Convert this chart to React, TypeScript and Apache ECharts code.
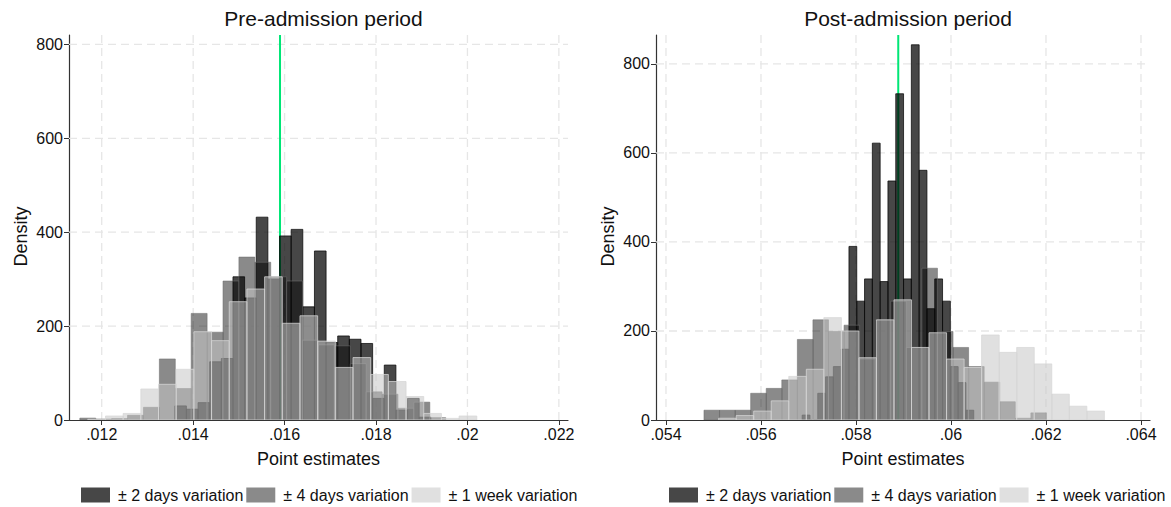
import React, { useEffect, useRef } from 'react';
import * as echarts from 'echarts';

const seriesNames = ['± 2 days variation', '± 4 days variation', '± 1 week variation'];
const panelTitles = ['Pre-admission period', 'Post-admission period'];
const xAxisTitle = 'Point estimates';
const yAxisTitle = 'Density';

// Pre-admission period: bin start, bin width, densities
const preDarkStart = 0.013598;
const preDarkWidth = 0.0002546;
const preDark = [30, 23, 37, 124, 131, 305, 260, 432, 300, 392, 406, 241, 360, 165, 179, 172, 163, 46, 117, 21, 46, 6];
const preMidStart = 0.011521;
const preMidWidth = 0.000348;
const preMid = [4, 2, 3, 10, 27, 130, 67, 227, 187, 296, 347, 336, 305, 296, 170, 160, 158, 120, 60, 55, 25, 38, 5];
const preLightStart = 0.011695;
const preLightWidth = 0.0003868;
const preLight = [1.5, 8.5, 14, 66, 76, 108, 188, 169, 252, 279, 305, 206, 222, 168, 112, 133, 97, 82, 50, 14, 3.5, 8.5];
const preTrue = 0.0159;
const preXTicks = [0.012, 0.014, 0.016, 0.018, 0.02, 0.022];
const preXRange = [0.011284, 0.0222];
const preYMax = 820;

// Post-admission period
const postDarkStart = 0.056867;
const postDarkWidth = 0.0001642;
const postDark = [11, 0, 60, 97, 120, 159, 390, 267, 317, 622, 311, 537, 733, 317, 843, 561, 250, 317, 267, 120, 84, 22];
const postMidStart = 0.0548;
const postMidWidth = 0.0003277;
const postMid = [22, 22, 22, 60, 71, 90, 181, 225, 199, 213, 137, 225, 267, 163, 341, 199, 163, 120, 85, 41, 4, 16];
const postLightStart = 0.055109;
const postLightWidth = 0.0003691;
const postLight = [4, 10, 20, 43, 98, 114, 230, 200, 140, 225, 270, 163, 196, 137, 118, 191, 152, 163, 126, 58, 31, 20];
const postTrue = 0.05889;
const postXTicks = [0.054, 0.056, 0.058, 0.06, 0.062, 0.064];
const postXRange = [0.05379, 0.06419];
const postYMax = 865;

const yTicks = [0, 200, 400, 600, 800];

const FONT = "'Liberation Sans', Arial, Helvetica, sans-serif";
const fills = ['rgba(0,0,0,0.72)', 'rgba(0,0,0,0.46)', 'rgba(199,199,199,0.55)'];
const strokes = ['rgba(10,10,10,0.75)', 'rgba(110,110,110,0.55)', 'rgba(215,215,215,0.75)'];

const fmtTick = (v: number) => {
  const s = v.toFixed(3).replace(/0+$/, '');
  return s.replace(/^0/, '');
};

const bins = (start: number, width: number, h: number[]) =>
  h.map((v, i) => [start + i * width, start + (i + 1) * width, v]);

const histRender = (fill: string, stroke: string) => (params: any, api: any) => {
  const a = api.coord([api.value(0), api.value(2)]);
  const b = api.coord([api.value(1), 0]);
  return {
    type: 'rect',
    shape: { x: a[0], y: a[1], width: b[0] - a[0], height: b[1] - a[1] },
    style: { fill, stroke, lineWidth: 1 },
  };
};

// value 0: position, value 1: kind (0 vertical grid, 1 true value line, 2 horizontal grid)
const guideRender = (params: any, api: any) => {
  const cs = params.coordSys;
  const kind = api.value(1);
  if (kind === 2) {
    const y = api.coord([0, api.value(0)])[1];
    return {
      type: 'line',
      shape: { x1: cs.x, y1: y, x2: cs.x + cs.width, y2: y },
      style: { stroke: '#e6e6e6', lineWidth: 1.3, lineDash: [8, 5] },
    };
  }
  const x = api.coord([api.value(0), 0])[0];
  return {
    type: 'line',
    shape: { x1: x, y1: cs.y, x2: x, y2: cs.y + cs.height },
    style: kind === 1
      ? { stroke: '#00e676', lineWidth: 2 }
      : { stroke: '#e6e6e6', lineWidth: 1.3, lineDash: [8, 5] },
  };
};

export default function App() {
  const ref = useRef<HTMLDivElement>(null);
  useEffect(() => {
    if (!ref.current) return;
    const chart = echarts.init(ref.current, undefined, { renderer: 'svg' });
    const panels = [
      {
        left: 69, width: 499, range: preXRange, ticks: preXTicks, yMax: preYMax, truth: preTrue,
        data: [bins(preDarkStart, preDarkWidth, preDark), bins(preMidStart, preMidWidth, preMid), bins(preLightStart, preLightWidth, preLight)],
      },
      {
        left: 656, width: 494, range: postXRange, ticks: postXTicks, yMax: postYMax, truth: postTrue,
        data: [bins(postDarkStart, postDarkWidth, postDark), bins(postMidStart, postMidWidth, postMid), bins(postLightStart, postLightWidth, postLight)],
      },
    ];
    const grid: any[] = [];
    const xAxis: any[] = [];
    const yAxis: any[] = [];
    const series: any[] = [];
    const title: any[] = [];
    const legend: any[] = [];
    panels.forEach((p, i) => {
      grid.push({ left: p.left, width: p.width, top: 35, height: 385 });
      title.push({
        text: panelTitles[i], left: p.left + p.width / 2, textAlign: 'center', top: 3,
        textStyle: { fontFamily: FONT, fontSize: 21, fontWeight: 'normal', color: '#111' },
      });
      xAxis.push({
        type: 'value', gridIndex: i, min: p.range[0], max: p.range[1],
        name: xAxisTitle, nameLocation: 'middle', nameGap: 30,
        nameTextStyle: { fontFamily: FONT, fontSize: 18, color: '#111' },
        axisLine: { show: true, lineStyle: { color: '#333', width: 1.2 } },
        axisTick: { show: true, customValues: p.ticks, length: 5, lineStyle: { color: '#333' } },
        axisLabel: { customValues: p.ticks, formatter: (v: number) => fmtTick(v), fontFamily: FONT, fontSize: 16, color: '#111', margin: 6 },
        splitLine: { show: false },
      });
      yAxis.push({
        type: 'value', gridIndex: i, min: 0, max: p.yMax,
        name: yAxisTitle, nameLocation: 'middle', nameGap: 39,
        nameTextStyle: { fontFamily: FONT, fontSize: 18, color: '#111', padding: [0, 18, 0, 0] },
        axisLine: { show: true, lineStyle: { color: '#333', width: 1.2 } },
        axisTick: { show: true, customValues: yTicks, length: 5, lineStyle: { color: '#333' } },
        axisLabel: { customValues: yTicks, fontFamily: FONT, fontSize: 16, color: '#111', margin: 6 },
        splitLine: { show: false },
      });
      series.push({
        type: 'custom', name: 'guides' + i, xAxisIndex: i, yAxisIndex: i, z: 1, silent: true,
        renderItem: guideRender,
        data: [...p.ticks.map((v) => [v, 0]), ...yTicks.slice(1).map((v) => [v, 2]), [p.truth, 1]],
        encode: { x: 0 },
      });
      p.data.forEach((d, k) => {
        series.push({
          type: 'custom', name: seriesNames[k], xAxisIndex: i, yAxisIndex: i, z: 2 + k,
          renderItem: histRender(fills[k], strokes[k]),
          itemStyle: { color: fills[k] },
          data: d, encode: { x: [0, 1], y: 2 }, clip: true,
        });
      });
      legend.push({
        data: seriesNames, left: i === 0 ? 81 : 669, top: 487, padding: 0, itemWidth: 29, itemHeight: 15, itemGap: 3,
        icon: 'rect', selectedMode: false, itemStyle: { borderWidth: 0 },
        textStyle: { fontFamily: FONT, fontSize: 16, color: '#111', padding: [0, 0, 0, 3] },
      });
    });
    chart.setOption({ animation: false, textStyle: { fontFamily: FONT }, title, grid, xAxis, yAxis, series, legend });
    return () => chart.dispose();
  }, []);
  return <div ref={ref} style={{ position: 'fixed', left: 0, top: 0, width: 1171, height: 507, background: '#fff' }} />;
}
